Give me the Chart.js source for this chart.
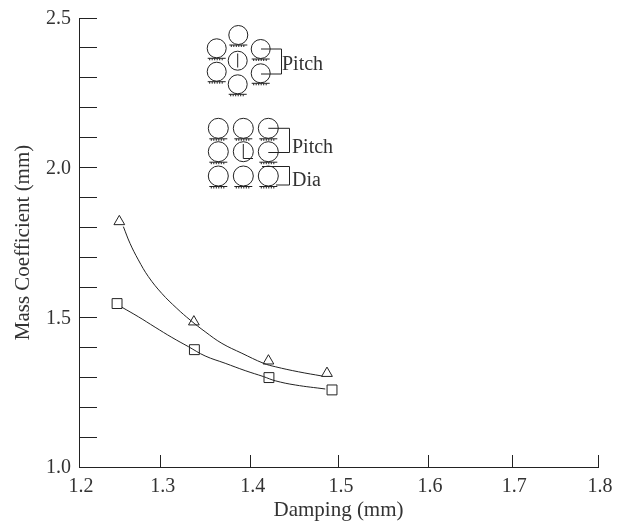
<!DOCTYPE html>
<html>
<head>
<meta charset="utf-8">
<style>html,body{margin:0;padding:0;background:#fff}canvas{display:block}</style>
<script src="https://cdn.jsdelivr.net/npm/chart.js@4"></script>
</head>
<body>
<canvas id="c" width="621" height="521"></canvas>
<script>
const triangleX = [1.2466, 1.3328, 1.419, 1.4867];
const triangleY = [1.82, 1.485, 1.3545, 1.313];
const squareX = [1.244, 1.3334, 1.4196, 1.4925];
const squareY = [1.546, 1.392, 1.2987, 1.2575];
const triangleCurveX = [1.2513, 1.259, 1.2686, 1.2802, 1.2957, 1.3131, 1.3285, 1.3458, 1.3652, 1.3883, 1.4133, 1.4269, 1.4538, 1.4809];
const triangleCurveY = [1.803, 1.747, 1.692, 1.636, 1.58, 1.53, 1.491, 1.452, 1.413, 1.38, 1.3465, 1.335, 1.318, 1.304];
const squareCurveX = [1.2494, 1.2686, 1.288, 1.3073, 1.3265, 1.3458, 1.369, 1.3921, 1.4133, 1.4269, 1.45, 1.4847];
const squareCurveY = [1.534, 1.502, 1.467, 1.433, 1.402, 1.371, 1.3465, 1.322, 1.302, 1.288, 1.274, 1.2606];
const xTickValues = [1.2, 1.2944, 1.3985, 1.5005, 1.6035, 1.701, 1.8];
const xTickLabels = ['1.2', '1.3', '1.4', '1.5', '1.6', '1.7', '1.8'];
const yTickValues = [1.0, 1.1, 1.2, 1.3, 1.4, 1.5, 1.6, 1.7, 1.8, 1.9, 2.0, 2.1, 2.2, 2.3, 2.4, 2.5];
const yTickLabels = ['1.0', '', '', '', '', '1.5', '', '', '', '', '2.0', '', '', '', '', '2.5'];
const xTitle = 'Damping (mm)';
const yTitle = 'Mass Coefficient (mm)';

const FONT = '"Liberation Serif"';
const INK = '#222';
const TXT = '#333';

function toPoints(xs, ys) { return xs.map((x, i) => ({ x, y: ys[i] })); }
function noPad(s) { s.paddingTop = 0; s.paddingBottom = 0; s.paddingLeft = 0; s.paddingRight = 0; }

// Schematic tube-array insets (annotation, not data)
const insetPlugin = {
  id: 'inset',
  afterDraw(chart) {
    const ctx = chart.ctx;
    ctx.save();
    ctx.strokeStyle = INK;
    ctx.lineWidth = 1;
    const tube = (x, y, r, hatch) => {
      ctx.beginPath();
      ctx.arc(x, y, r, 0, Math.PI * 2);
      ctx.stroke();
      if (hatch) {
        const hy = y + r + 0.5;
        ctx.beginPath();
        ctx.moveTo(x - 9, hy); ctx.lineTo(x + 9, hy);
        for (let i = -7; i <= 7; i += 2.5) { ctx.moveTo(x + i, hy); ctx.lineTo(x + i, hy + 2); }
        ctx.stroke();
      }
    };
    const poly = (pts) => {
      ctx.beginPath();
      pts.forEach((p, i) => i ? ctx.lineTo(p[0], p[1]) : ctx.moveTo(p[0], p[1]));
      ctx.stroke();
    };
    [[238.3, 35], [216.7, 48.3], [260.7, 49], [216.7, 71.7], [260.7, 73.3], [237.7, 84.3]]
      .forEach(p => tube(p[0], p[1], 9.5, true));
    tube(237.7, 60.7, 9.5, false);
    poly([[237.7, 53.5], [237.7, 67.5]]);
    poly([[261, 49], [281.5, 49], [281.5, 74], [261, 74]]);

    [218.3, 243.3, 268.3].forEach(x => [128.3, 151.7, 176].forEach(y => {
      tube(x, y, 10, !(x === 243.3 && y === 151.7));
    }));
    poly([[243.3, 144], [243.3, 158.5], [253, 158.5]]);
    poly([[268.3, 128.3], [289.5, 128.3], [289.5, 152.5], [268.3, 152.5]]);
    poly([[262, 166.5], [289.5, 166.5], [289.5, 185], [276, 185]]);

    ctx.fillStyle = TXT;
    ctx.font = '20px ' + FONT;
    ctx.textAlign = 'left';
    ctx.textBaseline = 'alphabetic';
    ctx.fillText('Pitch', 282, 70);
    ctx.fillText('Pitch', 292, 153);
    ctx.fillText('Dia', 292, 186);
    ctx.restore();
  }
};

const curveStyle = { showLine: true, tension: 0.4, borderColor: INK, borderWidth: 1, pointRadius: 0 };
const markerStyle = { showLine: false, pointBackgroundColor: '#fff', pointBorderColor: INK, pointBorderWidth: 1 };

new Chart(document.getElementById('c'), {
  type: 'scatter',
  data: {
    datasets: [
      { label: 'Triangular pitch curve', data: toPoints(triangleCurveX, triangleCurveY), ...curveStyle },
      { label: 'Square pitch curve', data: toPoints(squareCurveX, squareCurveY), ...curveStyle },
      { label: 'Triangular pitch', data: toPoints(triangleX, triangleY), pointStyle: 'triangle', pointRadius: 6.2, ...markerStyle },
      { label: 'Square pitch', data: toPoints(squareX, squareY), pointStyle: 'rect', pointRadius: 7, ...markerStyle }
    ]
  },
  options: {
    responsive: false,
    animation: false,
    layout: { padding: { top: 18, right: 23, left: 0, bottom: 0 } },
    plugins: { legend: { display: false }, tooltip: { enabled: false } },
    scales: {
      x: {
        type: 'linear', min: 1.2, max: 1.8,
        afterBuildTicks: s => { s.ticks = xTickValues.map(value => ({ value })); },
        afterFit: s => { s.height = 54; noPad(s); },
        grid: { drawOnChartArea: false, tickLength: -12, tickColor: INK, tickWidth: 1 },
        border: { color: INK, width: 1 },
        ticks: {
          autoSkip: false, maxRotation: 0, minRotation: 0,
          padding: 20, labelOffset: 2, color: TXT,
          font: { family: FONT, size: 20 },
          callback: (v, i) => xTickLabels[i]
        },
        title: { display: true, text: xTitle, color: TXT, font: { family: FONT, size: 21 }, padding: { top: 0, bottom: -2 } }
      },
      y: {
        type: 'linear', min: 1.0, max: 2.5,
        afterBuildTicks: s => { s.ticks = yTickValues.map(value => ({ value })); },
        afterFit: s => { s.width = 79; noPad(s); },
        grid: { drawOnChartArea: false, tickLength: -18, tickColor: INK, tickWidth: 1 },
        border: { color: INK, width: 1 },
        ticks: {
          autoSkip: false, padding: 26, labelOffset: 1, color: TXT,
          font: { family: FONT, size: 20 },
          callback: (v, i) => yTickLabels[i]
        },
        title: { display: true, text: yTitle, color: TXT, font: { family: FONT, size: 21 }, padding: { top: 11, bottom: 0 } }
      }
    }
  },
  plugins: [insetPlugin]
});
</script>
</body>
</html>
